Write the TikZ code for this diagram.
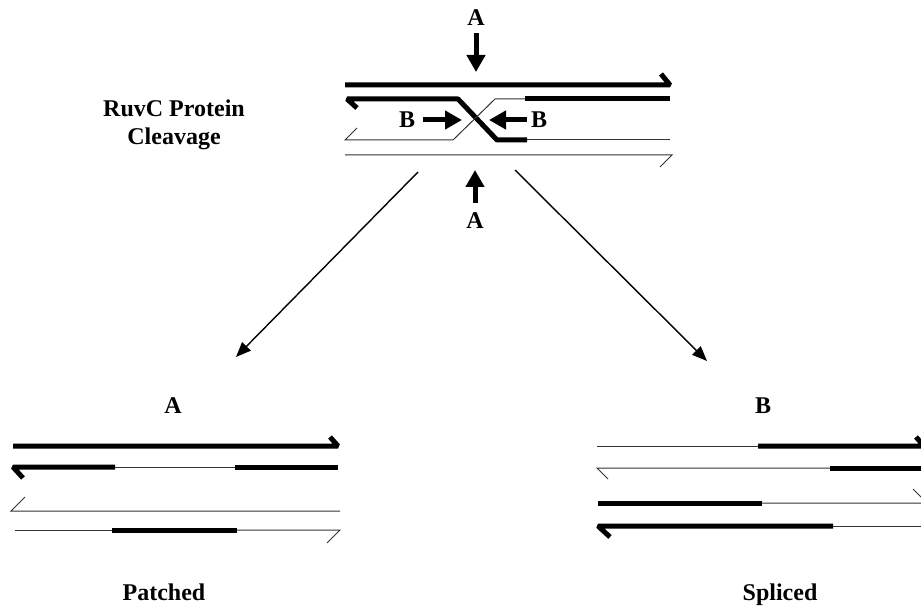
\documentclass[tikz,border=0pt]{standalone}
\usepackage{fontspec}
\setmainfont{Liberation Serif}
\usetikzlibrary{arrows.meta}
\begin{document}
\begin{tikzpicture}[x=1pt,y=-1pt,
  thickstrand/.style={line width=5pt, line join=bevel},
  thinstrand/.style={line width=1pt, black!80},
  lbl/.style={font=\fontsize{24}{28}\selectfont\bfseries, inner sep=0pt, anchor=base},
  cutarrow/.style={line width=5pt, -{Triangle[width=18pt,length=17pt]}},
  splitarrow/.style={line width=1.4pt, -{Triangle[width=12pt,length=15pt]}},
]
\useasboundingbox (0,0) rectangle (921,612);
\clip (0,0) rectangle (921,612);

% ---------- Holliday junction before cleavage ----------
\draw[thickstrand] (345,85) -- (670,85) -- (661,74);
\draw[thickstrand] (357,108) -- (347,99) -- (458,99) -- (497,140) -- (527,140);
\draw[thickstrand] (525,99) -- (670,99);
\draw[thinstrand] (357,128) -- (345,140) -- (453,140) -- (495,99) -- (525,99);
\draw[thinstrand] (527,140) -- (670,140);
\draw[thinstrand] (345,155) -- (672,155) -- (660,167);

% cleavage sites
\node[lbl] (atop) at (476,25.5) {A};
\coordinate (cutA1) at (476,72);
\draw[cutarrow, shorten <=7.5pt] (atop.south) -- (cutA1);

\node[lbl] (abot) at (475,229) {A};
\coordinate (cutA2) at (475,170);
\draw[cutarrow, shorten <=10pt] (abot.north) -- (cutA2);

\node[lbl] (bleft) at (407,128) {B};
\coordinate (cutB1) at (462,120);
\draw[cutarrow, shorten <=8pt] (bleft.east |- cutB1) -- (cutB1);

\node[lbl] (bright) at (539,128) {B};
\coordinate (cutB2) at (489,120);
\draw[cutarrow, shorten <=4pt] (bright.west |- cutB2) -- (cutB2);

\node[lbl] (ruvc1) at (174,117) {RuvC Protein};
\node[lbl] (ruvc2) at (174,145) {Cleavage};

% ---------- resolution pathways ----------
\coordinate (splitL) at (418,172);
\coordinate (splitR) at (515,170);
\node[lbl] (resA) at (173,413) {A};
\node[lbl] (resB) at (763,413) {B};
\draw[splitarrow] (splitL) -- (236,357) coordinate (tipL);
\draw[splitarrow] (splitR) -- (707,361) coordinate (tipR);

% ---------- patched products ----------
\draw[thickstrand] (13,446) -- (338,446) -- (330,437);
\draw[thickstrand] (23,478) -- (13,467) -- (115,467);
\draw[thinstrand] (115,467) -- (235,467);
\draw[thickstrand] (235,467) -- (338,467);
\draw[thinstrand] (25,497) -- (11,511) -- (340,511);
\draw[thinstrand] (15,530) -- (112,530);
\draw[thickstrand] (112,530) -- (237,530);
\draw[thinstrand] (237,530) -- (340,530) -- (327,543);
\node[lbl] (patched) at (164,600) {Patched};

% ---------- spliced products ----------
\draw[thinstrand] (597,446) -- (758,446);
\draw[thickstrand] (758,446) -- (924,446) -- (916,437);
\draw[thinstrand] (608,479) -- (597,468) -- (830,468);
\draw[thickstrand] (830,468) -- (930,468);
\draw[thickstrand] (598,503) -- (762,503);
\draw[thinstrand] (762,503) -- (927,503) -- (913,489);
\draw[thickstrand] (610,537) -- (598,526) -- (833,526);
\draw[thinstrand] (833,526) -- (930,526);
\node[lbl] (spliced) at (780,600) {Spliced};
\end{tikzpicture}
\end{document}
